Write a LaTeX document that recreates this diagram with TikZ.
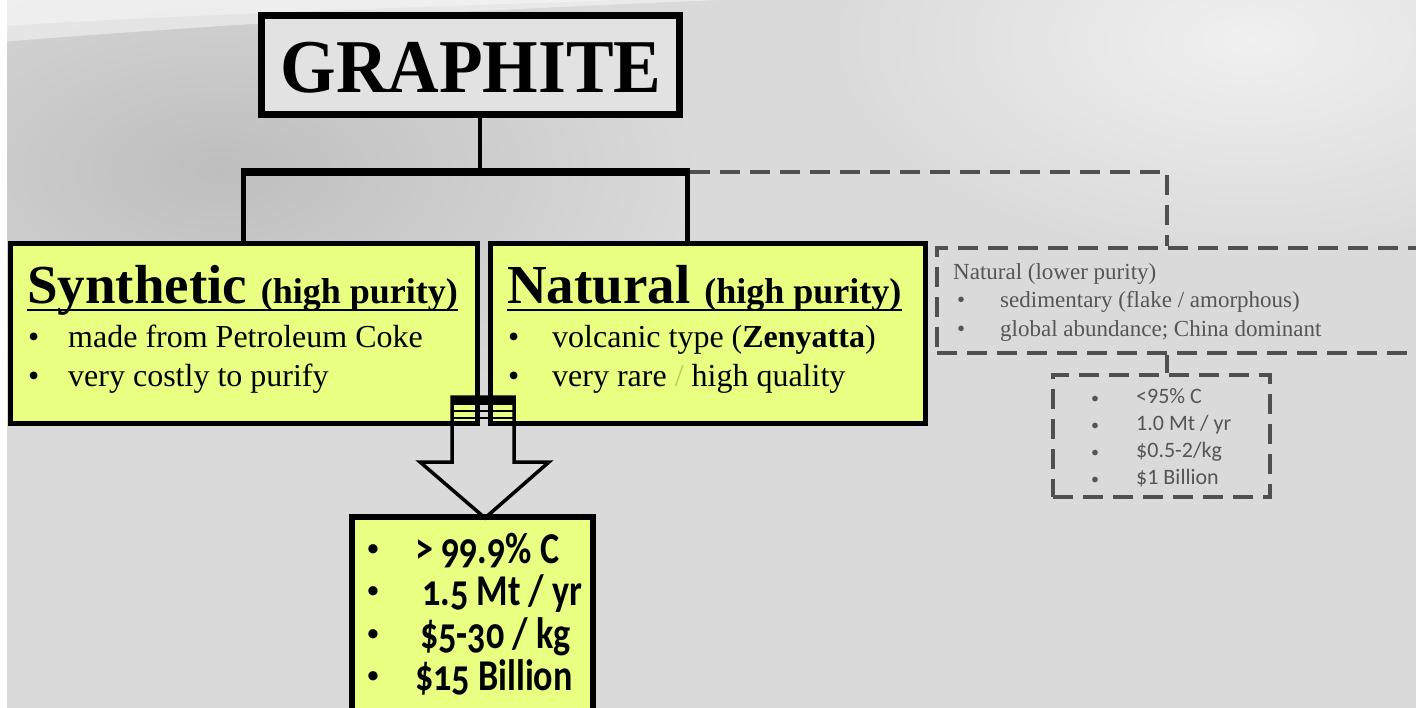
\documentclass[tikz,border=0pt]{standalone}
\usepackage{fontspec}
\setmainfont{Liberation Serif}
\newfontfamily\cbold[Numbers=OldStyle]{Carlito Bold}
\newfontfamily\creg{Carlito}
\definecolor{bg}{RGB}{218,218,218}
\definecolor{bgdark}{RGB}{190,190,190}
\definecolor{bglight}{RGB}{240,240,240}
\definecolor{lime}{RGB}{233,255,130}
\definecolor{gbox}{RGB}{226,226,226}
\definecolor{dgray}{RGB}{80,80,80}
\definecolor{tgray}{RGB}{85,85,85}
\definecolor{faint}{RGB}{185,205,95}
\begin{document}
\begin{tikzpicture}[x=1pt,y=-1pt,
  solidbox/.style={draw=black,fill=lime,line width=5pt,inner sep=0pt},
  topbox/.style={draw=black,fill=gbox,line width=7pt,inner sep=0pt},
  dbox/.style={draw=dgray,line width=4pt,dash pattern=on 20pt off 10pt,inner sep=0pt},
  dconn/.style={draw=dgray,line width=4pt,dash pattern=on 20pt off 10pt},
  conn/.style={draw=black,line width=5pt},
  txt/.style={inner sep=0pt,anchor=base west},
  big/.style={txt,font=\fontsize{32}{36}\selectfont},
  low/.style={txt,text=tgray,font=\fontsize{23}{26}\selectfont},
  sm/.style={txt,text=tgray,font=\creg\fontsize{22}{26}\selectfont},
  bt/.style={txt,font=\cbold\fontsize{44}{48}\selectfont},
  btb/.style={txt,font=\fontsize{34}{40}\selectfont\bfseries}]
\useasboundingbox (0,0) rectangle (1416,708);
\clip (0,0) rectangle (1416,708);
% background
\fill[bg] (0,0) rectangle (1416,708);
\shade[inner color=bgdark,outer color=bg] (220,170) ellipse [x radius=480pt,y radius=260pt];
\shade[inner color=bglight,outer color=bg] (1250,40) ellipse [x radius=420pt,y radius=220pt];
\fill[white,fill opacity=0.45] (0,0) -- (720,0) .. controls (520,8) and (250,22) .. (0,42) -- cycle;
\fill[white,fill opacity=0.35] (0,0) -- (620,0) .. controls (450,6) and (200,14) .. (0,26) -- cycle;
\fill[white] (0,0) rectangle (7,708);
% top box
\node[topbox,minimum width=418pt,minimum height=99pt] (g) at (470.5,65) {};
\node[inner sep=0pt,font=\bfseries\fontsize{76}{80}\selectfont] (gt) at (471,68) {\scalebox{0.94}[1]{GRAPHITE}};
% boxes
\node[solidbox,minimum width=467pt,minimum height=179pt] (syn) at (243.5,333.5) {};
\node[solidbox,minimum width=435pt,minimum height=179pt] (nat) at (707.5,333.5) {};
\node[dbox,minimum width=493pt,minimum height=105pt] (lowb) at (1183.5,300.5) {};
\node[dbox,minimum width=217pt,minimum height=122pt] (small) at (1161.5,436) {};
\node[draw=black,fill=lime,line width=6pt,inner sep=0pt,minimum width=241pt,minimum height=220pt] (res) at (472.5,627) {};
% connectors
\coordinate (gj) at (480,172);
\coordinate (barL) at (243.5,172);
\coordinate (barR) at (687,172);
\coordinate (dj) at (1167,172);
\draw[conn,line width=4pt] (g.south -| gj) -- (gj);
\draw[conn] (barL) -- (syn.north);
\draw[conn] (barR) -- (barR |- nat.north);
\draw[line width=8pt] ([xshift=-2.5pt]barL) -- ([xshift=2.5pt]barR);
\draw[dconn] ([xshift=3pt]barR) -- (dj) -- (dj |- lowb.north);
\draw[dconn] (lowb.south -| dj) -- (small.north -| dj);
% block arrow
\draw[line width=3.5pt,line join=miter] (452,397) -- (452,462) -- (420,462) -- (485,518) -- (549,462) -- (514,462) -- (514,397) -- cycle;
\fill[black] (452,396) rectangle (514,405);
\draw[line width=2.5pt] (452,411) -- (514,411);
\draw[line width=2.5pt] (452,418) -- (514,418);
% synthetic text
\node[txt] (synt) at (27,304) {\bfseries\fontsize{55}{60}\selectfont Synthetic \fontsize{36}{40}\selectfont(high purity)};
\draw[line width=2pt] ([yshift=-6pt]synt.base west) -- ([yshift=-6pt]synt.base east);
\node[big] (s1b) at (28,348) {•};
\node[big] (s1) at (68,348) {made from Petroleum Coke};
\node[big] (s2b) at (28,387) {•};
\node[big] (s2) at (68,387) {very costly to purify};
% natural text
\node[txt] (natt) at (507,304) {\bfseries\fontsize{55}{60}\selectfont Natural \fontsize{36}{40}\selectfont(high purity)};
\draw[line width=2pt] ([yshift=-6pt]natt.base west) -- ([yshift=-6pt]natt.base east);
\node[big] (n1b) at (508,348) {•};
\node[big] (n1) at (552,348) {volcanic type (\textbf{Zenyatta})};
\node[big] (n2b) at (508,387) {•};
\node[big] (n2) at (552,387) {very rare \textcolor{faint}{/} high quality};
% lower purity text
\node[low] (l0) at (953,280) {Natural (lower purity)};
\node[low] (l1b) at (957,308) {•};
\node[low] (l1) at (1000,308) {sedimentary (flake / amorphous)};
\node[low] (l2b) at (957,337) {•};
\node[low] (l2) at (1000,337) {global abundance; China dominant};
% small box text
\node[sm] (m1b) at (1091,403) {\fontsize{16}{20}\selectfont•};
\node[sm] (m1) at (1136,403) {<95\% C};
\node[sm] (m2b) at (1091,430) {\fontsize{16}{20}\selectfont•};
\node[sm] (m2) at (1136,430) {1.0 Mt / yr};
\node[sm] (m3b) at (1091,457) {\fontsize{16}{20}\selectfont•};
\node[sm] (m3) at (1136,457) {\$0.5-2/kg};
\node[sm] (m4b) at (1091,484) {\fontsize{16}{20}\selectfont•};
\node[sm] (m4) at (1136,484) {\$1 Billion};
% result text
\node[btb] (r1b) at (367,560) {•};
\node[bt] (r1) at (415,563) {\scalebox{0.82}[1]{> 99.9\% C}};
\node[btb] (r2b) at (367,602) {•};
\node[bt] (r2) at (422,605) {\scalebox{0.82}[1]{1.5 Mt / yr}};
\node[btb] (r3b) at (367,645) {•};
\node[bt] (r3) at (420,648) {\scalebox{0.82}[1]{\$5-30 / kg}};
\node[btb] (r4b) at (367,687) {•};
\node[bt] (r4) at (415,690) {\scalebox{0.82}[1]{\$15 Billion}};
\end{tikzpicture}
\end{document}
